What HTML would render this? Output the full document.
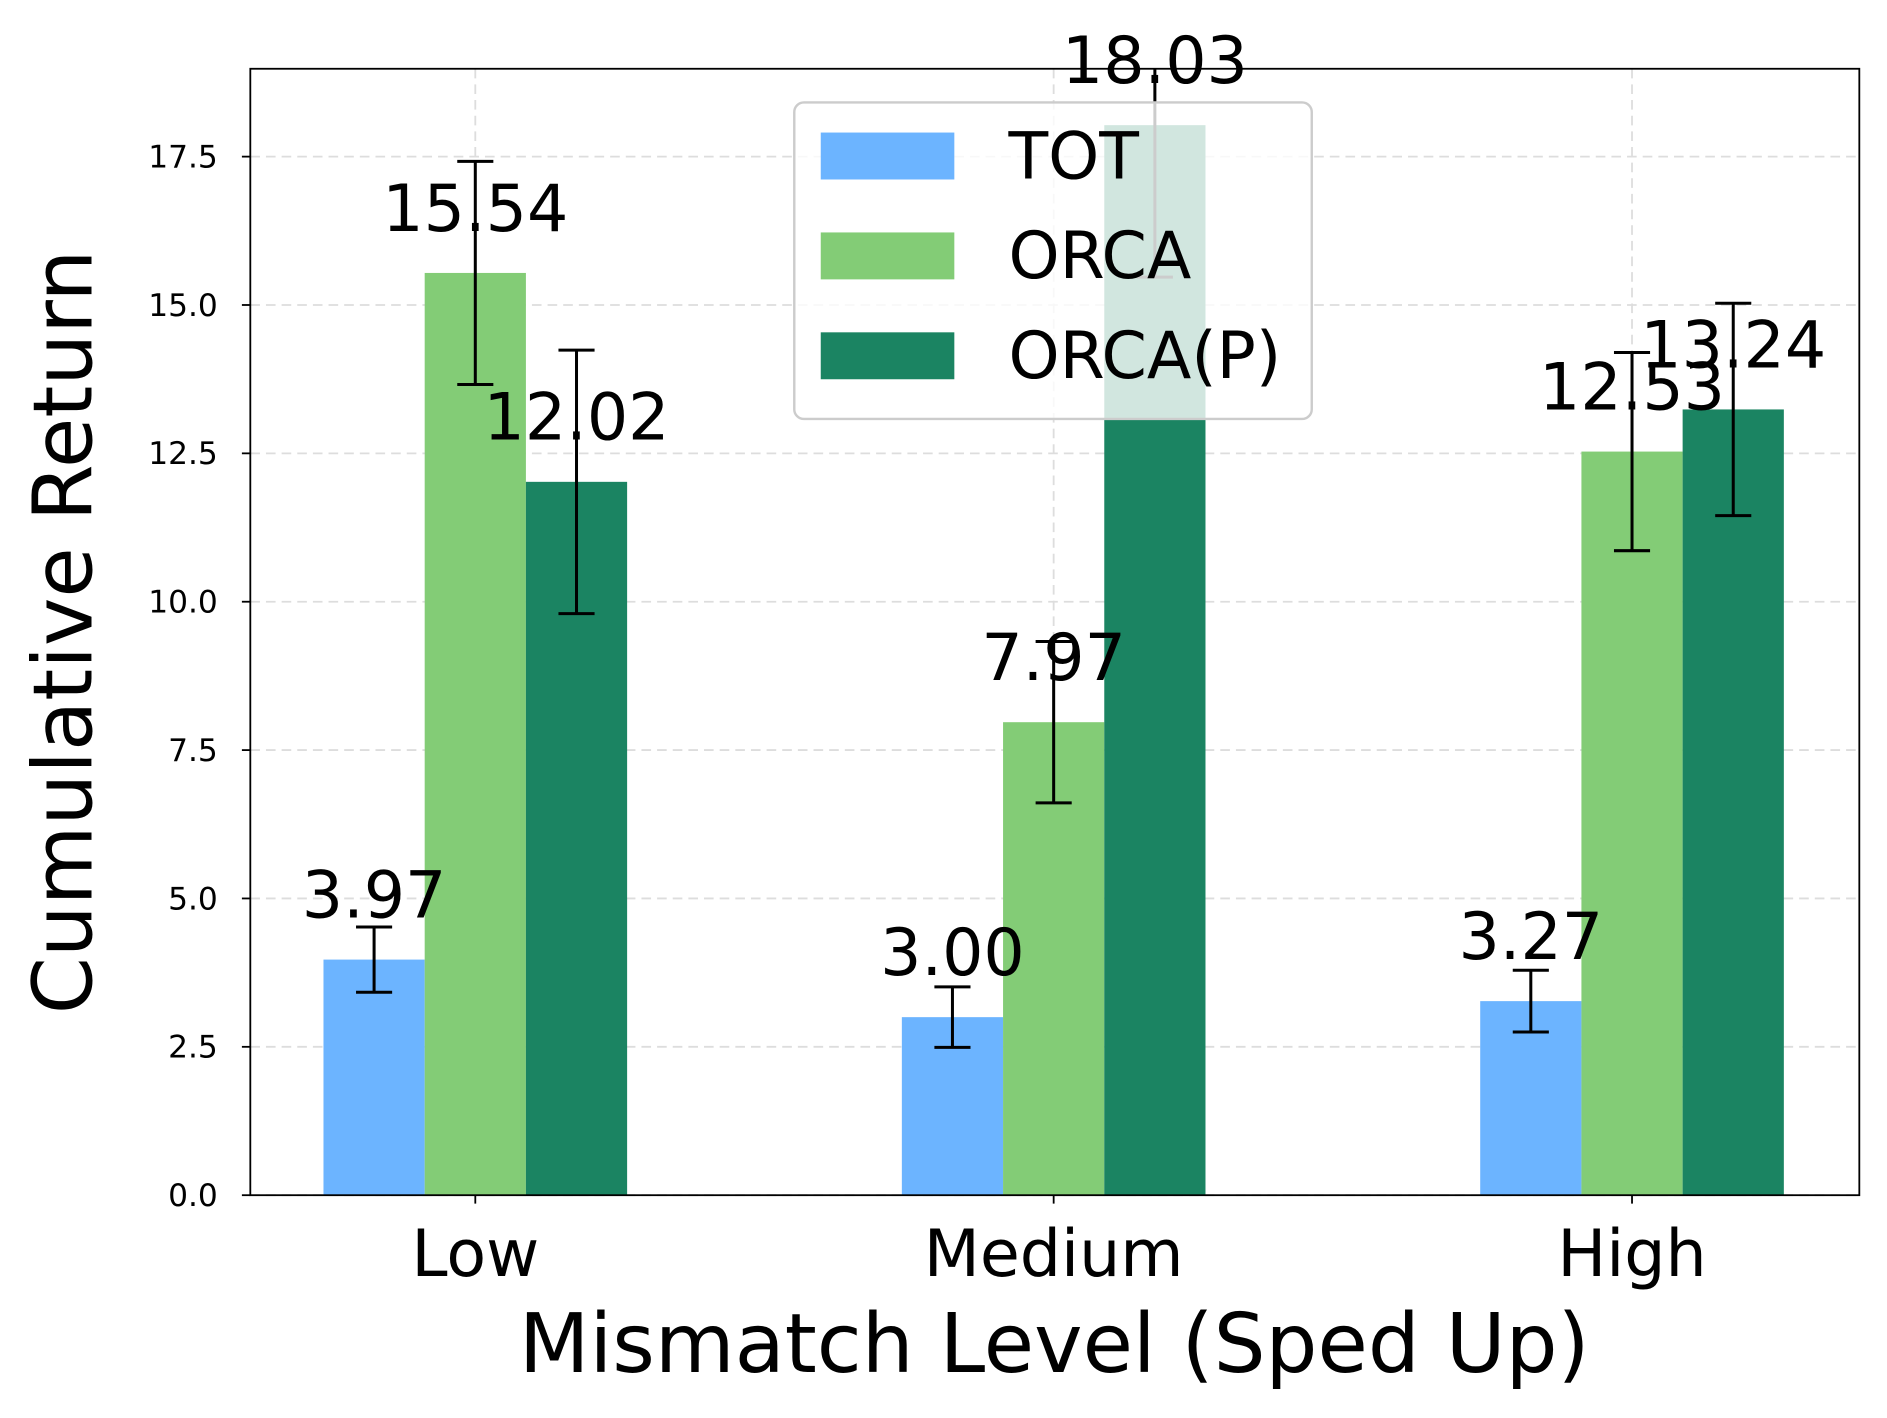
<!DOCTYPE html>
<html><head><meta charset="utf-8"><style>
html,body{margin:0;padding:0;background:#fff;}
svg{display:block;font-family:"DejaVu Sans","Liberation Sans",sans-serif;}
</style></head><body>
<svg id="chart" width="1887" height="1418" viewBox="0 0 1568 1178" xmlns="http://www.w3.org/2000/svg">
<rect width="1568" height="1178" fill="#fff"/>
<g id="grid"></g><g id="bars"></g><g id="errs"></g><g id="labels"></g><g id="axes"></g><g id="legend"></g>
</svg>
<script>
const categories = ["Low", "Medium", "High"];
const seriesNames = ["TOT", "ORCA", "ORCA(P)"];
const totValues = [3.97, 3.00, 3.27];
const orcaValues = [15.54, 7.97, 12.53];
const orcapValues = [12.02, 18.03, 13.24];
const totErrors = [0.55, 0.51, 0.52];
const orcaErrors = [1.88, 1.36, 1.67];
const orcapErrors = [2.22, 2.56, 1.79];
const yTicks = [0, 2.5, 5, 7.5, 10, 12.5, 15, 17.5];
const yTickLabels = ["0.0","2.5","5.0","7.5","10.0","12.5","15.0","17.5"];

const colors = ["#6cb4ff", "#83cc76", "#1b8462"];
const L=208,R=1545,T=57,B=993;
const yMax=(B-T)/((B-130)/17.5);
const xMin=-0.389,xMax=2.393;
const X=v=>L+(v-xMin)/(xMax-xMin)*(R-L);
const Y=v=>B-v/yMax*(B-T);
const bw=0.175;
const NS="http://www.w3.org/2000/svg";
function mk(tag,attrs,parent,text){const e=document.createElementNS(NS,tag);for(const k in attrs)e.setAttribute(k,attrs[k]);if(text!==undefined)e.textContent=text;document.getElementById(parent).appendChild(e);return e;}

yTicks.forEach((t,i)=>{
  const g=mk('line',{x1:L,x2:R,y1:Y(t),y2:Y(t),stroke:'#ddd','stroke-width':1.5,'stroke-dasharray':'8,5'},'grid');
  
  
  const tk=mk('line',{x1:L-7,x2:L,y1:Y(t),y2:Y(t),stroke:'#000','stroke-width':1.5},'axes');
  
  
  const lb=mk('text',{x:L-27,y:Y(t)+9,'text-anchor':'end','font-size':26},'axes',yTickLabels[i]);
  
  
});
categories.forEach((c,i)=>{
  const g=mk('line',{x1:X(i),x2:X(i),y1:T,y2:B,stroke:'#ddd','stroke-width':1.5,'stroke-dasharray':'8,5'},'grid');
  
  
  const tk=mk('line',{x1:X(i),x2:X(i),y1:B,y2:B+7,stroke:'#000','stroke-width':1.5},'axes');
  
  
  const lb=mk('text',{x:X(i),y:1060,'text-anchor':'middle','font-size':54},'axes',c);
  
  
});
const series=[[totValues,totErrors],[orcaValues,orcaErrors],[orcapValues,orcapErrors]];
series.forEach(([vals,errs],s)=>{
  vals.forEach((v,i)=>{
    const cx=X(i+(s-1)*bw);
    const x0=X(i+(s-1)*bw-bw/2),x1=X(i+(s-1)*bw+bw/2);
    const r=mk('rect',{x:x0,y:Y(v),width:x1-x0,height:B-Y(v),fill:colors[s]},'bars');
    
    
    const e=errs[i];
    const eg=mk('g',{stroke:'#000','stroke-width':2.5},'errs');
    
    
    const top=Math.max(Y(v+e),T);
    [[cx,cx,top,Y(v-e)],[cx-15,cx+15,Y(v+e),Y(v+e)],[cx-15,cx+15,Y(v-e),Y(v-e)]].forEach((a,k)=>{
      if(k===1&&Y(v+e)<T)return;
      const l=document.createElementNS(NS,'line');l.setAttribute('x1',a[0]);l.setAttribute('x2',a[1]);l.setAttribute('y1',a[2]);l.setAttribute('y2',a[3]);eg.appendChild(l);
    });
    const lb=mk('text',{x:cx,y:Y(v)-35,'text-anchor':'middle','font-size':54},'labels',v.toFixed(2));
    
    
  });
});
const fr=mk('rect',{x:L,y:T,width:R-L,height:B-T,fill:'none',stroke:'#000','stroke-width':1.5},'axes');


const yl=mk('text',{x:0,y:0,'text-anchor':'middle','font-size':68,transform:'translate(76,525) rotate(-90)'},'axes','Cumulative Return');


const xl=mk('text',{x:876,y:1140,'text-anchor':'middle','font-size':68},'axes','Mismatch Level (Sped Up)');


const lbox=mk('rect',{x:660,y:85,width:430,height:263,rx:8,fill:'#fff','fill-opacity':0.8,stroke:'#ccc','stroke-width':2},'legend');


seriesNames.forEach((n,s)=>{
  const py=110+s*83;
  const p=mk('rect',{x:682,y:py,width:111,height:39,fill:colors[s]},'legend');
  
  
  const t=mk('text',{x:838,y:py+38,'font-size':54},'legend',n);
  
  
});
</script>
</body></html>
